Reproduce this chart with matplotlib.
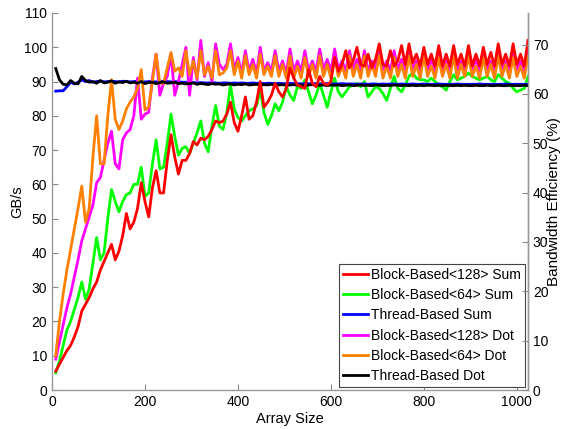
import numpy as np
import matplotlib
matplotlib.use('Agg')
import matplotlib.pyplot as plt

plt.rcParams['font.family'] = ['Liberation Sans', 'DejaVu Sans']

# array sizes 8..1024 step 8
sizes = np.arange(8, 1025, 8)

block128_sum = [
    5.5, 7.5, 9.5, 11.5, 13, 15.5, 18.5, 23, 25, 27, 29.5, 31.5, 35, 37.5, 40, 42.5,
    38, 40.5, 45, 51.5, 47, 49, 53, 60.5, 55, 50.5, 59, 64, 57.5, 57.5, 67, 74.5,
    68, 63, 67, 67, 69, 72.5, 71.5, 73.5, 73, 74, 76, 78.5, 78, 78.5, 80.5, 84,
    78, 75.5, 80, 85.5, 79, 80, 84, 90, 82.5, 84, 86, 89.5, 87, 85.5, 88, 94,
    91, 89, 88.5, 88, 93.5, 89.5, 88.5, 91.5, 89.5, 89, 90, 97, 93, 95, 99, 94,
    96, 100, 95, 94.5, 98, 94, 96.5, 101, 95, 94.5, 99, 94.5, 96, 100.5, 95, 101,
    95.5, 98, 94.5, 100, 95, 98, 94.5, 100.5, 94.5, 98, 94.5, 100.5, 95, 98, 94.5, 100.5,
    94.5, 98, 94.5, 100, 95, 98.5, 94.5, 101, 95, 98, 94.5, 101, 95, 98, 94.5, 102]

block64_sum = [
    5, 8.5, 13, 17.5, 20, 23.5, 27, 31.5, 26.5, 29.5, 37, 44.5, 38, 40, 50, 58.5,
    55, 52, 55, 57, 57.5, 60, 60, 65, 56.5, 57.5, 66, 73, 64.5, 65, 72, 80.5,
    74, 68.5, 70.5, 71, 69, 72, 75, 78.5, 72, 69.5, 77, 83, 77, 76, 81, 89,
    82, 79.5, 78.5, 80, 81.5, 82, 83, 87.5, 81, 77.5, 80, 83.5, 81.5, 84, 88.5, 86,
    84.5, 88.5, 88, 90.5, 87, 83.5, 86, 89.5, 86, 82.5, 87, 91, 87, 85.5, 87, 88.5,
    89, 89.5, 88.5, 90, 85.5, 87, 88.5, 88, 86.5, 84.5, 88, 91.5, 88, 87, 89, 91.5,
    92.5, 91, 90.5, 90.5, 90, 91, 90, 89, 88.5, 87.5, 90, 92, 90.5, 91, 91.5, 92.5,
    91.5, 91, 90.5, 91, 91.5, 90.5, 90, 92, 91, 90, 89.5, 88, 87, 87.5, 88, 91.5]

thread_sum = [
    87.2, 87.3, 87.3, 88.5, 89.8, 89.3, 89.8, 90.5, 90.0, 90.3, 89.8, 90.0, 90.1, 89.9, 90.0, 90.1,
    90.0, 89.9, 90.1, 90.0, 89.9, 90.0, 90.1, 90.0, 89.9, 90.0, 90.0, 89.9, 90.0, 90.1, 90.0, 89.9,
    90.0, 89.9, 89.8, 89.8, 89.7, 89.7, 89.6, 89.7, 89.6, 89.6, 89.7, 89.6, 89.5, 89.6, 89.6, 89.5,
    89.6, 89.5, 89.6, 89.5, 89.5, 89.6, 89.5, 89.5, 89.4, 89.5, 89.5, 89.4, 89.5, 89.4, 89.4, 89.5,
    89.4, 89.4, 89.3, 89.4, 89.4, 89.3, 89.4, 89.3, 89.3, 89.4, 89.3, 89.3, 89.3, 89.4, 89.3, 89.3,
    89.3, 89.2, 89.3, 89.3, 89.2, 89.3, 89.3, 89.2, 89.3, 89.2, 89.3, 89.3, 89.2, 89.3, 89.2, 89.2,
    89.3, 89.2, 89.2, 89.3, 89.2, 89.2, 89.2, 89.3, 89.2, 89.2, 89.2, 89.2, 89.3, 89.2, 89.2, 89.2,
    89.2, 89.2, 89.3, 89.2, 89.2, 89.2, 89.2, 89.2, 89.2, 89.3, 89.2, 89.2, 89.2, 89.2, 89.2, 89.2]

block128_dot = [
    9, 14, 19, 24, 28, 33, 38, 43.5, 47, 50.5, 54, 60.5, 62, 67, 72, 75.5,
    66, 64.5, 73, 75, 76, 80, 91, 79, 80.5, 81, 91, 98, 86, 89.5, 91.5, 98,
    86, 90, 95, 100, 86, 97, 90.5, 102, 91.5, 95.5, 90, 101, 95, 93.5, 95, 101,
    93.5, 97, 92.5, 99, 93, 96.5, 92.5, 100, 93, 95.5, 93, 99, 93, 96, 92.5, 99.5,
    93, 96, 93, 99, 93, 96, 93, 99.5, 93.5, 96.5, 93, 99.5, 93.5, 96, 93, 99,
    93.5, 96.5, 93, 99, 93, 96, 93.5, 99.5, 93.5, 96, 93, 99, 93.5, 96.5, 93, 99.5,
    93.5, 96, 93, 99, 93.5, 96.5, 93, 99, 93.5, 96, 93, 99.5, 93.5, 96, 93, 99,
    93.5, 96.5, 93, 99, 93.5, 96, 93, 99.5, 93.5, 96, 93, 99, 93.5, 96, 93, 99.5]

block64_dot = [
    10, 20, 28, 35, 41, 47, 53, 59.5, 49, 53, 68, 80, 66, 66, 80, 90.5,
    79, 76, 78.5, 82, 84, 85.5, 88, 93.5, 81.7, 82.6, 90, 98, 89.5, 89.5, 94, 98.5,
    93, 94, 91.5, 99, 92, 96, 91, 99, 92, 94.5, 91, 99, 92, 92.5, 94, 99,
    92, 96, 91, 97.5, 92, 95, 91, 98, 92, 94.5, 91.5, 97.5, 91.5, 95, 91, 97.5,
    91, 94.5, 91, 97, 91.5, 95, 91, 97.5, 91.5, 95, 91, 97, 91.5, 94.5, 91, 97.5,
    91.5, 95, 91, 97.5, 91.5, 95, 91.5, 97.5, 91, 94.5, 91, 97, 91.5, 95, 91, 97.5,
    91.5, 95, 91, 97.5, 91.5, 94.5, 91, 97, 91.5, 95, 91, 97.5, 91, 95, 91.5, 97.5,
    91.5, 94.5, 91, 97, 91.5, 95, 91, 97.5, 91.5, 95, 91, 97, 91.5, 94.5, 91, 97.5]

thread_dot = [
    93.8, 90.5, 89.2, 89.0, 90.3, 89.5, 89.3, 91.5, 90.3, 89.8, 90.0, 89.5, 90.3, 89.6, 89.8, 90.2,
    89.5, 89.9, 89.7, 90.1, 89.6, 89.8, 89.5, 90.0, 89.4, 89.7, 89.8, 89.4, 89.7, 89.9, 89.5, 89.6,
    89.8, 89.4, 89.5, 89.3, 89.4, 89.6, 89.2, 89.4, 89.3, 89.1, 89.4, 89.2, 89.3, 89.0, 89.2, 89.3,
    89.0, 89.2, 89.1, 89.3, 89.0, 89.1, 89.2, 88.9, 89.1, 89.0, 89.2, 88.9, 89.0, 89.1, 88.9, 89.0,
    89.1, 88.9, 89.0, 88.8, 89.0, 89.1, 88.9, 88.9, 89.0, 88.8, 89.0, 88.9, 89.0, 88.8, 88.9, 89.0,
    88.8, 88.9, 89.0, 88.8, 88.9, 88.8, 89.0, 88.9, 88.8, 88.9, 88.8, 89.0, 88.9, 88.8, 88.9, 88.8,
    88.9, 88.8, 88.9, 88.8, 88.9, 88.9, 88.8, 88.9, 88.8, 88.9, 88.8, 88.8, 88.9, 88.8, 88.9, 88.8,
    88.8, 88.9, 88.8, 88.8, 88.9, 88.8, 88.8, 88.9, 88.8, 88.8, 88.9, 88.8, 88.8, 88.8, 88.9, 88.8]

peak_bw = 144.0  # GB/s, for the efficiency axis

fig = plt.figure(figsize=(5.63, 4.29), dpi=100)
ax = fig.add_axes([0.0924, 0.0909, 0.8454, 0.8788])

lw = 2
l1, = ax.plot(sizes, block128_sum, color='#FF0000', lw=lw, zorder=5, label='Block-Based<128> Sum')
l2, = ax.plot(sizes, block64_sum, color='#00FF00', lw=lw, zorder=2, label='Block-Based<64> Sum')
l3, = ax.plot(sizes, thread_sum, color='#0000FF', lw=lw, zorder=3, label='Thread-Based Sum')
l4, = ax.plot(sizes, block128_dot, color='#FF00FF', lw=lw, zorder=3, label='Block-Based<128> Dot')
l5, = ax.plot(sizes, block64_dot, color='#FF8000', lw=lw, zorder=4, label='Block-Based<64> Dot')
l6, = ax.plot(sizes, thread_dot, color='#000000', lw=lw, zorder=4, label='Thread-Based Dot')

ax.set_xlim(0, 1024)
ax.set_ylim(0, 110)
ax.set_xticks([0, 200, 400, 600, 800, 1000])
ax.set_yticks(np.arange(0, 111, 10))
ax.set_xlabel('Array Size', fontsize=10.5, labelpad=2)
ax.set_ylabel('GB/s', fontsize=10.5, labelpad=0)

ax2 = ax.twinx()
ax2.set_ylim(0, 110 / peak_bw * 100)
ax2.set_yticks(np.arange(0, 71, 10))
ax2.set_ylabel('Bandwidth Efficiency (%)', fontsize=11)
ax2.yaxis.set_label_coords(1.041, 0.5)

for a in (ax, ax2):
    a.tick_params(direction='in', labelsize=10, length=4, color='#888888')
    a.spines['top'].set_visible(False)
    for s in ('left', 'right', 'bottom'):
        a.spines[s].set_color('#999999')
        a.spines[s].set_linewidth(1)
ax2.spines['left'].set_visible(False)
ax2.spines['bottom'].set_visible(False)

leg = ax.legend(handles=[l1, l2, l3, l4, l5, l6], loc='lower right', fontsize=10,
                fancybox=False, framealpha=1, edgecolor='#444444',
                handlelength=1.8, handletextpad=0.25, labelspacing=0.45,
                borderaxespad=0.2, borderpad=0.3)
leg.get_frame().set_linewidth(0.8)
leg.set_zorder(10)

fig.savefig('out.png', dpi=100)
